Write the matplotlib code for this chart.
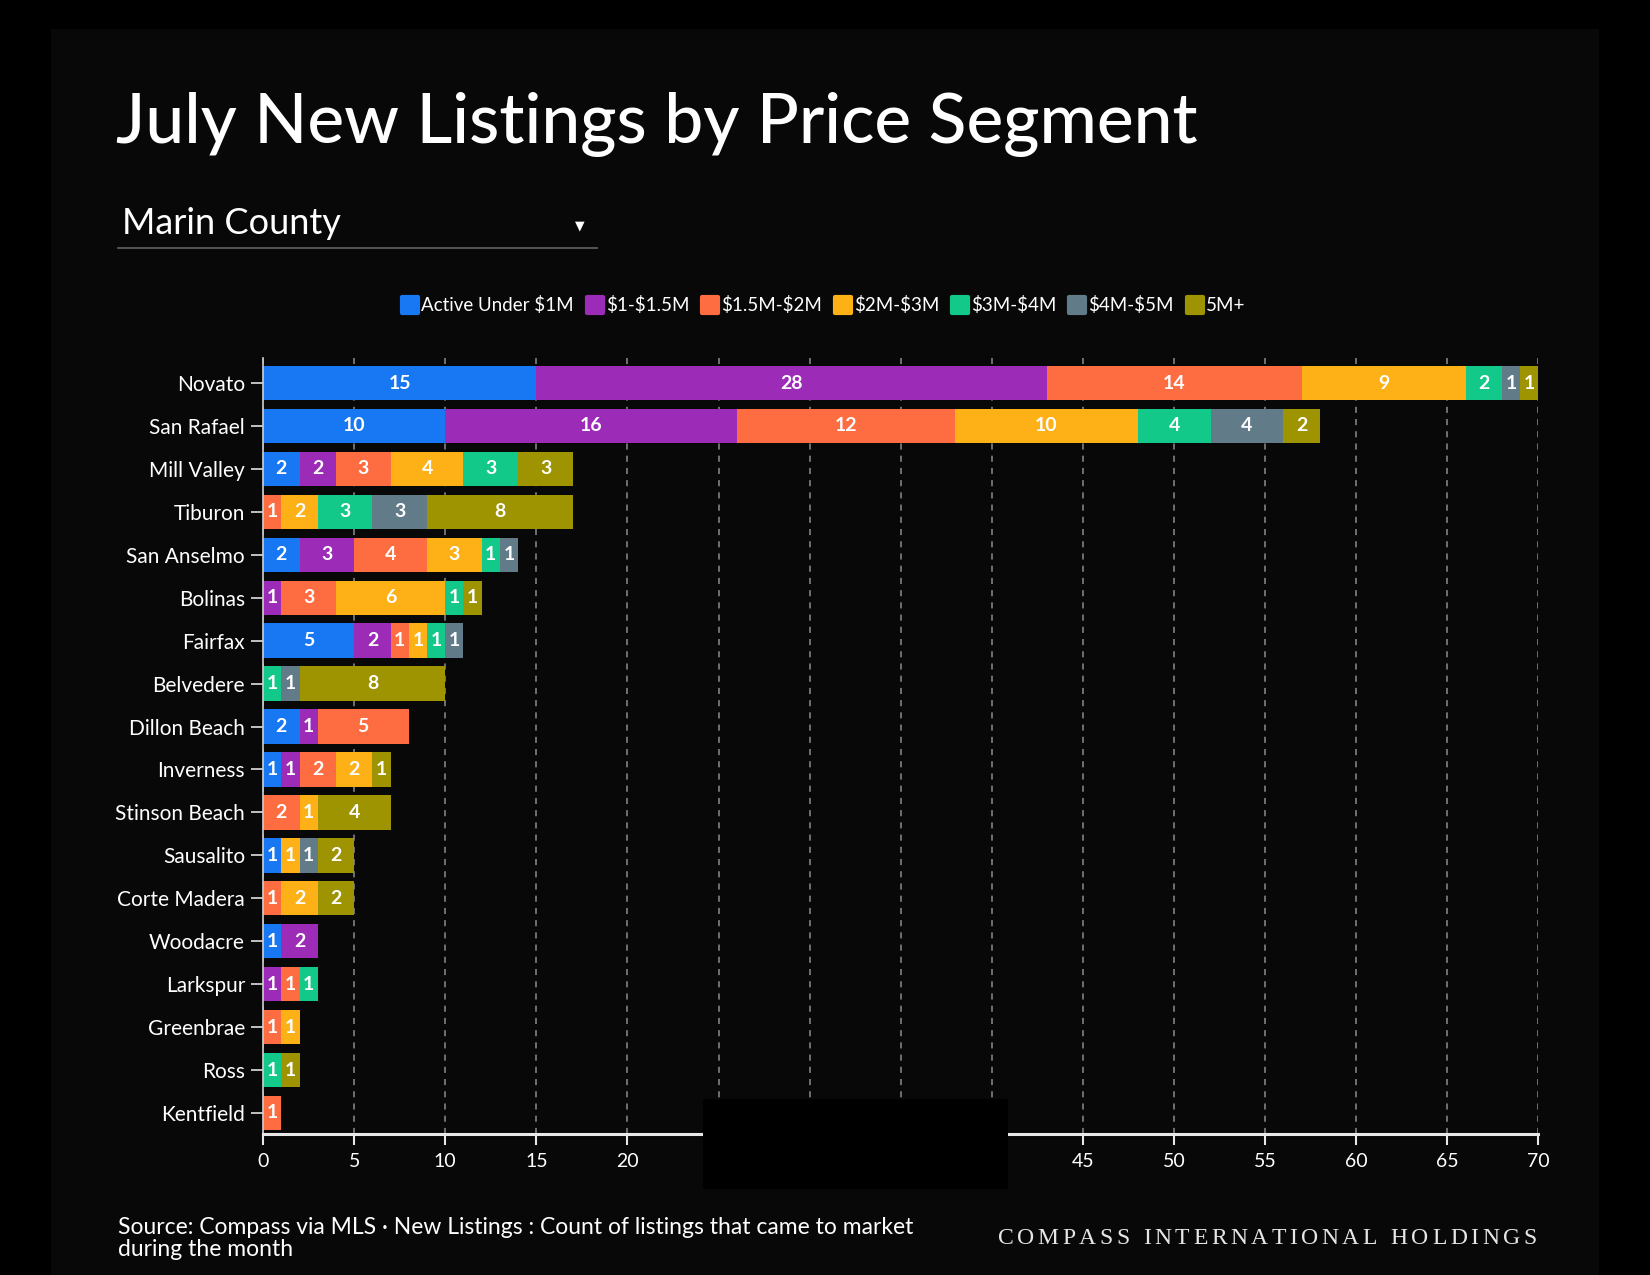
"""July new listings by price segment, Marin County (stacked horizontal bars)."""

import matplotlib
matplotlib.use("Agg")
import matplotlib.pyplot as plt
import numpy as np
from matplotlib.font_manager import FontProperties
from matplotlib.lines import Line2D
from matplotlib.markers import MarkerStyle
from matplotlib.patches import Rectangle
from matplotlib.textpath import text_to_path

CITIES = ["Novato", "San Rafael", "Mill Valley", "Tiburon", "San Anselmo", "Bolinas",
          "Fairfax", "Belvedere", "Dillon Beach", "Inverness", "Stinson Beach", "Sausalito",
          "Corte Madera", "Woodacre", "Larkspur", "Greenbrae", "Ross", "Kentfield"]
SEGMENTS = ["Active Under \\$1M", "\\$1-\\$1.5M", "\\$1.5M-\\$2M", "\\$2M-\\$3M",
            "\\$3M-\\$4M", "\\$4M-\\$5M", "5M+"]
UNDER_1M = [15, 10, 2, 0, 2, 0, 5, 0, 2, 1, 0, 1, 0, 1, 0, 0, 0, 0]
M1_15 = [28, 16, 2, 0, 3, 1, 2, 0, 1, 1, 0, 0, 0, 2, 1, 0, 0, 0]
M15_2 = [14, 12, 3, 1, 4, 3, 1, 0, 5, 2, 2, 0, 1, 0, 1, 1, 0, 1]
M2_3 = [9, 10, 4, 2, 3, 6, 1, 0, 0, 2, 1, 1, 2, 0, 0, 1, 0, 0]
M3_4 = [2, 4, 3, 3, 1, 1, 1, 1, 0, 0, 0, 0, 0, 0, 1, 0, 1, 0]
M4_5 = [1, 4, 0, 3, 1, 0, 1, 1, 0, 0, 0, 1, 0, 0, 0, 0, 0, 0]
M5_PLUS = [1, 2, 3, 8, 0, 1, 0, 8, 0, 1, 4, 2, 2, 0, 0, 0, 1, 0]
SERIES = [UNDER_1M, M1_15, M15_2, M2_3, M3_4, M4_5, M5_PLUS]
COLORS = ["#1877f2", "#9c2bb8", "#fe6d42", "#fdb116", "#13c98a", "#627b89", "#9e9300"]
X_TICKS = np.arange(0, 71, 5)

# layout grid of the reference (px)
W, H = 1568, 1212
FONT = ["Lato", "DejaVu Sans"]
BG = "#080808"


def fx(px):
    return px / W


def fy(py):
    return 1 - py / H


def tracked_text(fig, s, x0, x1, y, size, family, color):
    """Letter-spaced text stretched between x0 and x1 (figure fraction)."""
    fp = FontProperties(family=family, size=size, weight="light")
    fig_pt = fig.get_figwidth() * 72
    widths = []
    for c in s:
        if c == " ":
            widths.append(0.28 * size / fig_pt)
        else:
            widths.append(text_to_path.get_text_width_height_descent(c, fp, ismath=False)[0] / fig_pt)
    gap = ((x1 - x0) - sum(widths)) / (len(s) - 1)
    x = x0
    for c, w in zip(s, widths):
        fig.text(x, y, c, fontproperties=fp, color=color, ha="left", va="center")
        x += w + gap


def main():
    plt.rcParams["font.family"] = FONT
    fig = plt.figure(figsize=(16.5, 12.75), dpi=100, facecolor="#000000")
    fig.add_artist(Rectangle((fx(48), 0), fx(1520) - fx(48), fy(28), transform=fig.transFigure,
                             facecolor=BG, edgecolor="none", zorder=-5))

    fig.text(fx(110), fy(118), "July New Listings by Price Segment", color="white",
             fontsize=50, fontweight="medium", ha="left", va="center")
    fig.text(fx(116), fy(212), "Marin County", color="white", fontsize=26, ha="left", va="center")
    fig.text(fx(551), fy(215), "\u25bc", color="white", fontsize=9, family="DejaVu Sans",
             ha="center", va="center")
    fig.add_artist(Line2D([fx(112), fx(567)], [fy(236), fy(236)], transform=fig.transFigure,
                          color="#5a5a5a", lw=1.3))

    ax = fig.add_axes([fx(250), fy(1078), fx(1462) - fx(250), fy(340) - fy(1078)])
    ax.set_facecolor("none")
    y = np.arange(len(CITIES))
    left = np.zeros(len(CITIES))
    for vals, color in zip(SERIES, COLORS):
        vals = np.array(vals, dtype=float)
        ax.barh(y, vals, left=left, height=0.8, color=color, edgecolor="none")
        for yi, (l, v) in enumerate(zip(left, vals)):
            if v > 0:
                ax.text(l + v / 2, yi, f"{int(v)}", ha="center", va="center", color="white",
                        fontsize=14, fontweight="bold")
        left += vals

    ax.set_xlim(0, 70)
    ax.set_ylim(len(CITIES) - 0.51, -0.59)
    ax.set_yticks(y)
    ax.set_yticklabels(CITIES)
    ax.set_xticks(X_TICKS)
    ax.grid(axis="x", color="#8c8c8c", lw=1.1, ls=(0, (4, 4)))
    ax.set_axisbelow(True)
    for side in ("top", "right"):
        ax.spines[side].set_visible(False)
    ax.spines["left"].set_color("#d0d0d0")
    ax.spines["left"].set_linewidth(1.2)
    ax.spines["bottom"].set_color("#e8e8e8")
    ax.spines["bottom"].set_linewidth(2.2)
    ax.tick_params(axis="y", colors="#d0d0d0", labelcolor="white", length=9, width=1.3,
                   labelsize=15, pad=4)
    ax.tick_params(axis="x", colors="#e8e8e8", labelcolor="white", length=8, width=1.5,
                   labelsize=14, pad=6)

    handles = [Line2D([], [], ls="none", marker=MarkerStyle("s", joinstyle="round"),
                      markersize=12, mfc=c, mec=c, mew=3) for c in COLORS]
    fig.legend(handles, SEGMENTS, loc="center", bbox_to_anchor=(fx(783), fy(290)), ncol=7,
               frameon=False, fontsize=13.5, labelcolor="white", handlelength=0.8,
               handletextpad=0.2, columnspacing=0.7, borderaxespad=0)

    # masked block over the middle of the x axis, as in the source image
    fig.add_artist(Rectangle((fx(668), fy(1130)), fx(958) - fx(668), fy(1045) - fy(1130),
                             transform=fig.transFigure, facecolor="#000000", edgecolor="none",
                             zorder=10))

    fig.text(fx(112), fy(1177), "Source: Compass via MLS \u00b7 New Listings : Count of listings "
             "that came to market\nduring the month", color="white", fontsize=16.5,
             ha="left", va="center", linespacing=1.05)
    tracked_text(fig, "COMPASS INTERNATIONAL HOLDINGS", fx(948), fx(1460), fy(1177), 17,
                 ["Liberation Serif", "DejaVu Serif"], "#e6e6e6")

    fig.savefig("out.png", dpi=100, facecolor=fig.get_facecolor())


if __name__ == "__main__":
    main()
